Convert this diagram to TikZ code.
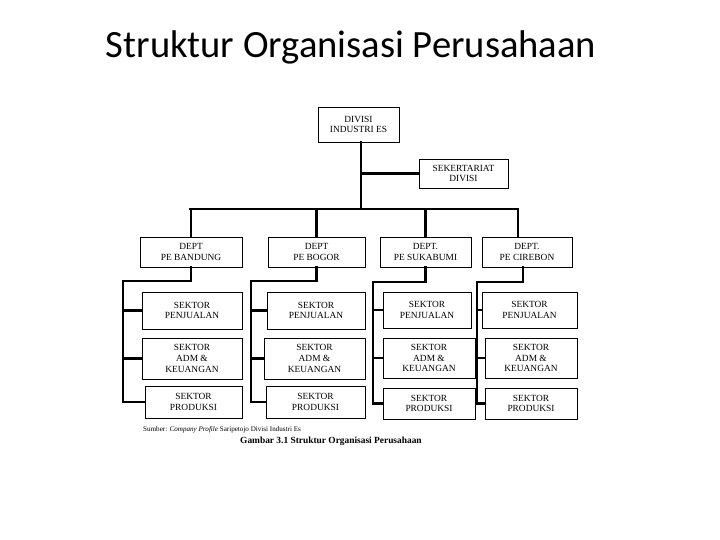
\documentclass[tikz,border=0pt]{standalone}
\usepackage{fontspec}
\setmainfont{Liberation Serif}
\newfontfamily\titlefont{Carlito}
\begin{document}
\begin{tikzpicture}[x=1pt,y=-1pt,
  box/.style={draw=black, line width=0.9pt, fill=white, align=center, inner sep=0pt,
    font=\fontsize{9.4}{10.8}\selectfont},
  conn/.style={line width=2.4pt, line cap=rect},
  txt/.style={inner sep=0pt, anchor=west}]
\useasboundingbox (0,0) rectangle (720,540);
\fill[white] (0,0) rectangle (720,540);

\node[inner sep=0pt, font=\titlefont\fontsize{38.6}{40}\selectfont] (title) at (351,47) {Struktur Organisasi Perusahaan};

% top level
\node[box, minimum width=81pt, minimum height=35pt] (top) at (358.5,124.5) {DIVISI\\INDUSTRI ES};
\node[box, minimum width=89pt, minimum height=29pt] (sek) at (463.5,173.5) {SEKERTARIAT\\DIVISI};

% departments
\node[box, minimum width=102pt, minimum height=30pt] (dA) at (191,252) {DEPT\\PE BANDUNG};
\node[box, minimum width=97pt, minimum height=30pt] (dB) at (316.5,252) {DEPT\\PE BOGOR};
\node[box, minimum width=91pt, minimum height=30pt] (dC) at (425.5,252) {DEPT.\\PE SUKABUMI};
\node[box, minimum width=90pt, minimum height=30pt] (dD) at (527,252) {DEPT.\\PE CIREBON};

% sectors Bandung
\node[box, minimum width=100pt, minimum height=37pt] (pA) at (192,310.5) {SEKTOR\\PENJUALAN};
\node[box, minimum width=100pt, minimum height=41pt] (aA) at (192,358.5) {SEKTOR\\ADM \&\\KEUANGAN};
\node[box, minimum width=97pt, minimum height=32pt] (rA) at (193.5,402) {SEKTOR\\PRODUKSI};
% Bogor
\node[box, minimum width=98pt, minimum height=37pt] (pB) at (316,310.5) {SEKTOR\\PENJUALAN};
\node[box, minimum width=101pt, minimum height=41pt] (aB) at (314.5,358.5) {SEKTOR\\ADM \&\\KEUANGAN};
\node[box, minimum width=99pt, minimum height=32pt] (rB) at (315.5,402) {SEKTOR\\PRODUKSI};
% Sukabumi
\node[box, minimum width=88pt, minimum height=36pt] (pC) at (427,310) {SEKTOR\\PENJUALAN};
\node[box, minimum width=92pt, minimum height=40pt] (aC) at (429,358) {SEKTOR\\ADM \&\\KEUANGAN};
\node[box, minimum width=92pt, minimum height=31pt] (rC) at (429,403.5) {SEKTOR\\PRODUKSI};
% Cirebon
\node[box, minimum width=95pt, minimum height=36pt] (pD) at (529.5,310) {SEKTOR\\PENJUALAN};
\node[box, minimum width=92pt, minimum height=40pt] (aD) at (531,358) {SEKTOR\\ADM \&\\KEUANGAN};
\node[box, minimum width=92pt, minimum height=31pt] (rD) at (531,403.5) {SEKTOR\\PRODUKSI};

% bus coordinates
\coordinate (busL) at (190,209);
\coordinate (busR) at (518,209);
\coordinate (topFoot) at ([xshift=2.5pt]top.south);
\coordinate (dropD) at ([xshift=-9pt]dD.north);

% connectors upper
\draw[conn] (topFoot) -- (topFoot |- busL);
\draw[conn] (topFoot |- sek.west) -- (sek.west);
\draw[conn] (busL) -- (busR);
\draw[conn] (dA.north) -- (dA.north |- busL);
\draw[conn] (dB.north) -- (dB.north |- busL);
\draw[conn] (dC.north) -- (dC.north |- busL);
\draw[conn] (dropD) -- (dropD |- busL);

% spines
\coordinate (sA) at (123,281);
\coordinate (sB) at (251,281);
\coordinate (sC) at (373,282);
\coordinate (sD) at (477,282);

\draw[conn] (dA.south) -- (dA.south |- sA) -- (sA) -- (sA |- rA.west) -- (rA.west);
\draw[conn] (sA |- pA.west) -- (pA.west);
\draw[conn] (sA |- aA.west) -- (aA.west);

\draw[conn] (dB.south) -- (dB.south |- sB) -- (sB) -- (sB |- rB.west) -- (rB.west);
\draw[conn] (sB |- pB.west) -- (pB.west);
\draw[conn] (sB |- aB.west) -- (aB.west);

\draw[conn] (dC.south) -- (dC.south |- sC) -- (sC) -- (sC |- rC.west) -- (rC.west);
\draw[conn] (sC |- pC.west) -- (pC.west);
\draw[conn] (sC |- aC.west) -- (aC.west);

\draw[conn] ([xshift=-4pt]dD.south) -- ([xshift=-4pt]dD.south |- sD) -- (sD) -- (sD |- rD.west) -- (rD.west);
\draw[conn] (sD |- pD.west) -- (pD.west);
\draw[conn] (sD |- aD.west) -- (aD.west);

% captions
\node[txt, font=\fontsize{7.1}{8}\selectfont] (src) at (143,430) {Sumber: \textit{Company Profile} Saripetojo Divisi Industri Es};
\node[txt, font=\bfseries\fontsize{9.4}{10}\selectfont] (cap) at (240,441) {Gambar 3.1 Struktur Organisasi Perusahaan};
\end{tikzpicture}
\end{document}
